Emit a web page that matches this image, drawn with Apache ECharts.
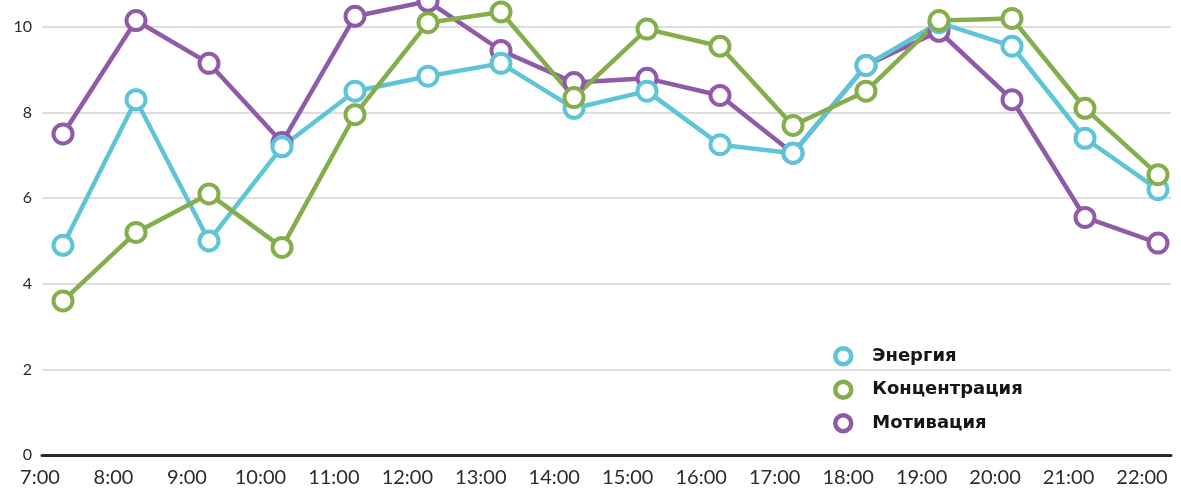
<!DOCTYPE html>
<html>
<head>
<meta charset="utf-8">
<style>
  html, body { margin: 0; padding: 0; background: #ffffff; }
  #chart { width: 1181px; height: 489px; }
</style>
<script src="https://cdn.jsdelivr.net/npm/echarts@6/dist/echarts.min.js"></script>
</head>
<body>
<div id="chart"></div>
<script>
// Hours of the day (x axis labels)
const timeLabels = ['7:00', '8:00', '9:00', '10:00', '11:00', '12:00', '13:00', '14:00',
                    '15:00', '16:00', '17:00', '18:00', '19:00', '20:00', '21:00', '22:00'];

// Series names
const nameEnergy = 'Энергия';
const nameConcentration = 'Концентрация';
const nameMotivation = 'Мотивация';

// Scores per hour (0–10 scale)
const energy        = [4.9, 8.3, 5.0, 7.2, 8.5, 8.85, 9.15, 8.1, 8.5, 7.25, 7.05, 9.1, 10.1, 9.55, 7.4, 6.2];
const concentration = [3.6, 5.2, 6.1, 4.85, 7.95, 10.1, 10.35, 8.35, 9.95, 9.55, 7.7, 8.5, 10.15, 10.2, 8.1, 6.55];
const motivation    = [7.5, 10.15, 9.15, 7.3, 10.25, 10.6, 9.45, 8.7, 8.8, 8.4, 7.05, 9.1, 9.9, 8.3, 5.55, 4.95];

// Y axis scale: labelled range and the headroom the plot keeps above it
const yMin = 0;
const yMax = 10;
const yStep = 2;
const yPlotMax = 10.63;

const colors = {
  energy: '#5ec4d7',
  concentration: '#84ad4c',
  motivation: '#8f5aa7'
};

const chart = echarts.init(document.getElementById('chart'), null, { renderer: 'canvas' });

function lineSeries(name, data, color) {
  return {
    name: name,
    type: 'line',
    xAxisIndex: 0,
    yAxisIndex: 0,
    data: data,
    symbol: 'circle',
    symbolSize: 19,
    showAllSymbol: true,
    clip: false,
    lineStyle: { color: color, width: 4.5 },
    itemStyle: { color: '#ffffff', borderColor: color, borderWidth: 4 },
    emphasis: { disabled: true }
  };
}

function legendEntry(name, color) {
  return { name: name, itemStyle: { color: '#ffffff', borderColor: color, borderWidth: 4.5 } };
}

const gridBottom = 34;

const option = {
  backgroundColor: '#ffffff',
  animation: false,
  legend: {
    orient: 'vertical',
    left: 828,
    top: 341,
    itemWidth: 16,
    itemHeight: 16,
    itemGap: 13,
    icon: 'circle',
    selectedMode: false,
    textStyle: {
      fontFamily: 'DejaVu Sans',
      fontWeight: 'bold',
      fontSize: 18,
      color: '#161616',
      padding: [0, 0, 0, 16]
    },
    data: [
      legendEntry(nameEnergy, colors.energy),
      legendEntry(nameConcentration, colors.concentration),
      legendEntry(nameMotivation, colors.motivation)
    ]
  },
  grid: [
    // plotting area for the lines (reaches the top edge)
    { left: 63, right: 23, top: 0, bottom: gridBottom },
    // frame: value axis, grid lines, base line
    { left: 42, right: 10, top: 27, bottom: gridBottom },
    // hour labels row
    { left: 40, right: 39, top: 27, bottom: gridBottom }
  ],
  xAxis: [
    {
      gridIndex: 0, type: 'category', data: timeLabels, boundaryGap: false,
      axisLine: { show: false }, axisTick: { show: false }, axisLabel: { show: false }, splitLine: { show: false }
    },
    {
      gridIndex: 1, type: 'category', data: timeLabels, boundaryGap: false,
      axisLine: { show: true, lineStyle: { color: '#2a2a2a', width: 3 } },
      axisTick: { show: false }, axisLabel: { show: false }, splitLine: { show: false }
    },
    {
      gridIndex: 2, type: 'category', data: timeLabels, boundaryGap: false,
      axisLine: { show: false }, axisTick: { show: false }, splitLine: { show: false },
      axisLabel: {
        show: true, interval: 0, margin: 13,
        fontFamily: 'Lato', fontSize: 20, color: '#2b2b2b'
      }
    }
  ],
  yAxis: [
    {
      gridIndex: 0, type: 'value', min: yMin, max: yPlotMax,
      axisLine: { show: false }, axisTick: { show: false }, axisLabel: { show: false }, splitLine: { show: false }
    },
    {
      gridIndex: 1, type: 'value', min: yMin, max: yMax, interval: yStep,
      axisLine: { show: false }, axisTick: { show: false },
      axisLabel: {
        margin: 10, fontFamily: 'Lato', fontSize: 16, color: '#2b2b2b'
      },
      splitLine: { show: true, lineStyle: { color: '#dedede', width: 2 } }
    },
    {
      gridIndex: 2, type: 'value', min: yMin, max: yMax, interval: yStep, show: false
    }
  ],
  series: [
    lineSeries(nameMotivation, motivation, colors.motivation),
    lineSeries(nameEnergy, energy, colors.energy),
    lineSeries(nameConcentration, concentration, colors.concentration)
  ]
};

chart.setOption(option);
</script>
</body>
</html>
